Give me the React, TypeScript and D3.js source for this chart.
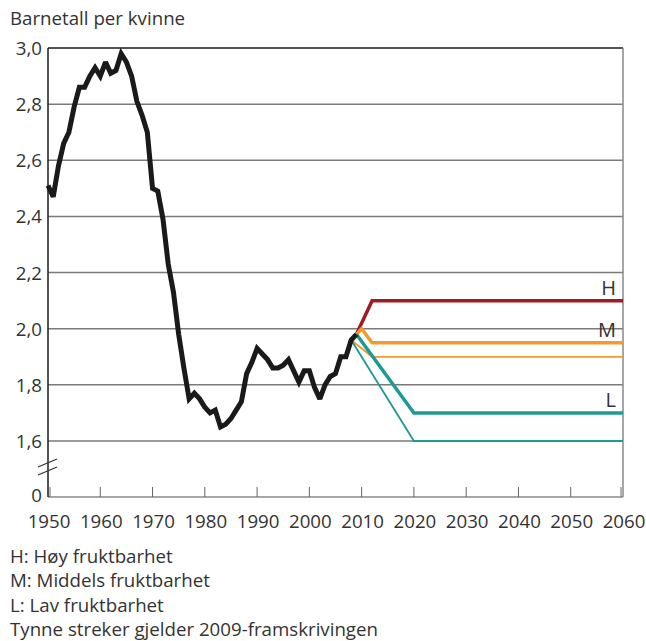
import React, { useEffect, useRef } from 'react';
import * as d3 from 'd3';

const years = d3.range(1950, 2010);
const tfr = [
  2.51, 2.47, 2.58, 2.66, 2.70, 2.79, 2.86, 2.86, 2.90, 2.93,
  2.90, 2.95, 2.91, 2.92, 2.98, 2.95, 2.90, 2.81, 2.76, 2.70,
  2.50, 2.49, 2.39, 2.23, 2.13, 1.98, 1.86, 1.75, 1.77, 1.75,
  1.72, 1.70, 1.71, 1.65, 1.66, 1.68, 1.71, 1.74, 1.84, 1.88,
  1.93, 1.91, 1.89, 1.86, 1.86, 1.87, 1.89, 1.85, 1.81, 1.85,
  1.85, 1.79, 1.75, 1.80, 1.83, 1.84, 1.90, 1.90, 1.96, 1.98,
];

// projections: [year, value]
const high2010 = [[2009, 1.98], [2012, 2.1], [2060, 2.1]];
const mid2010 = [[2009, 1.98], [2010, 2.0], [2012, 1.95], [2060, 1.95]];
const low2010 = [[2009, 1.98], [2020, 1.7], [2060, 1.7]];
const mid2009 = [[2008, 1.96], [2012, 1.9], [2060, 1.9]];
const low2009 = [[2008, 1.96], [2020, 1.6], [2060, 1.6]];

const yTicks = [1.6, 1.8, 2.0, 2.2, 2.4, 2.6, 2.8, 3.0];
const xTicks = d3.range(1950, 2070, 10);
const notes = [
  'H: Høy fruktbarhet',
  'M: Middels fruktbarhet',
  'L: Lav fruktbarhet',
  'Tynne streker gjelder 2009-framskrivingen',
];

const W = 646, H = 641;
const font = '"Open Sans", sans-serif';
const fs = 18.7;
const txt = '#333';

const App = () => {
  const ref = useRef(null);

  useEffect(() => {
    const svg = d3.select(ref.current);
    svg.selectAll('*').remove();

    const x = d3.scaleLinear().domain([1950, 2060]).range([48, 623]);
    // broken axis: 0 sits below 1.6
    const y = d3.scaleLinear().domain([0, 1.6, 3.0]).range([497, 441, 48]);

    // gridlines
    svg.append('g').selectAll('line')
      .data(yTicks.slice(0, -1))
      .join('line')
        .attr('x1', x(1950)).attr('x2', x(2060))
        .attr('y1', d => y(d)).attr('y2', d => y(d))
        .attr('stroke', '#7a7a7a').attr('stroke-width', 1.5);

    // frame
    svg.append('line').attr('x1', x(1950)).attr('x2', x(2060))
      .attr('y1', y(3)).attr('y2', y(3)).attr('stroke', '#1a1a1a').attr('stroke-width', 1.5);
    svg.append('line').attr('x1', x(2060)).attr('x2', x(2060))
      .attr('y1', y(3)).attr('y2', y(0)).attr('stroke', '#888').attr('stroke-width', 1.5);
    svg.append('line').attr('x1', x(1950)).attr('x2', x(2060))
      .attr('y1', y(0)).attr('y2', y(0)).attr('stroke', '#888').attr('stroke-width', 1.5);
    svg.append('line').attr('x1', x(1950)).attr('x2', x(1950))
      .attr('y1', y(3)).attr('y2', y(0)).attr('stroke', '#1a1a1a').attr('stroke-width', 1.5);

    // x ticks
    svg.append('g').selectAll('line')
      .data(xTicks)
      .join('line')
        .attr('x1', d => x(d) + (d === 1950 ? 2 : d === 2060 ? -2 : 0))
        .attr('x2', d => x(d) + (d === 1950 ? 2 : d === 2060 ? -2 : 0))
        .attr('y1', y(0)).attr('y2', y(0) - 10)
        .attr('stroke', '#666').attr('stroke-width', 1);

    // axis break marks
    const brk = svg.append('g').attr('stroke', '#333').attr('stroke-width', 1.2);
    [0, 8].forEach(o => {
      brk.append('line')
        .attr('x1', 38).attr('y1', 467 + o)
        .attr('x2', 57).attr('y2', 459 + o);
    });

    // labels
    svg.append('g').selectAll('text')
      .data([0, ...yTicks])
      .join('text')
        .attr('x', 42)
        .attr('y', d => y(d) + (d === 0 ? 5 : 7))
        .attr('text-anchor', 'end')
        .attr('font-family', font).attr('font-size', fs).attr('fill', txt)
        .text(d => d === 0 ? '0' : d3.format('.1f')(d).replace('.', ','));

    svg.append('g').selectAll('text')
      .data(xTicks)
      .join('text')
        .attr('x', d => x(d) + 1)
        .attr('y', 528)
        .attr('text-anchor', 'middle')
        .attr('font-family', font).attr('font-size', fs).attr('fill', txt)
        .text(d => d);

    svg.append('text')
      .attr('x', 10).attr('y', 25)
      .attr('font-family', font).attr('font-size', fs).attr('fill', txt)
      .text('Barnetall per kvinne');

    svg.append('g').selectAll('text')
      .data(notes)
      .join('text')
        .attr('x', 10)
        .attr('y', (d, i) => 563 + i * 24.3)
        .attr('font-family', font).attr('font-size', fs).attr('fill', txt)
        .text(d => d);

    const line = d3.line().x(d => x(d[0])).y(d => y(d[1]));

    const series = [
      { data: mid2009, color: '#f39a2e', w: 1.8 },
      { data: low2009, color: '#1e9a96', w: 1.8 },
      { data: high2010, color: '#a01c22', w: 3.5 },
      { data: mid2010, color: '#f39a2e', w: 3.5 },
      { data: low2010, color: '#1e9a96', w: 3.5 },
    ];
    svg.append('g').selectAll('path')
      .data(series)
      .join('path')
        .attr('d', d => line(d.data))
        .attr('fill', 'none')
        .attr('stroke', d => d.color)
        .attr('stroke-width', d => d.w);

    svg.append('path')
      .attr('d', line(years.map((yr, i) => [yr, tfr[i]])))
      .attr('fill', 'none')
      .attr('stroke', '#1a1a1a')
      .attr('stroke-width', 5)
      .attr('stroke-linejoin', 'miter')
      .attr('stroke-miterlimit', 2.5);

    // scenario letters
    svg.append('g').selectAll('text')
      .data([['H', 2.1], ['M', 1.95], ['L', 1.7]])
      .join('text')
        .attr('x', 616)
        .attr('y', d => y(d[1]) - 6)
        .attr('text-anchor', 'end')
        .attr('font-family', font).attr('font-size', 20).attr('fill', txt)
        .text(d => d[0]);
  }, []);

  return (
    <svg ref={ref} width={W} height={H}
      style={{ position: 'absolute', left: 0, top: 0, background: '#fff' }}></svg>
  );
};

export default App;
